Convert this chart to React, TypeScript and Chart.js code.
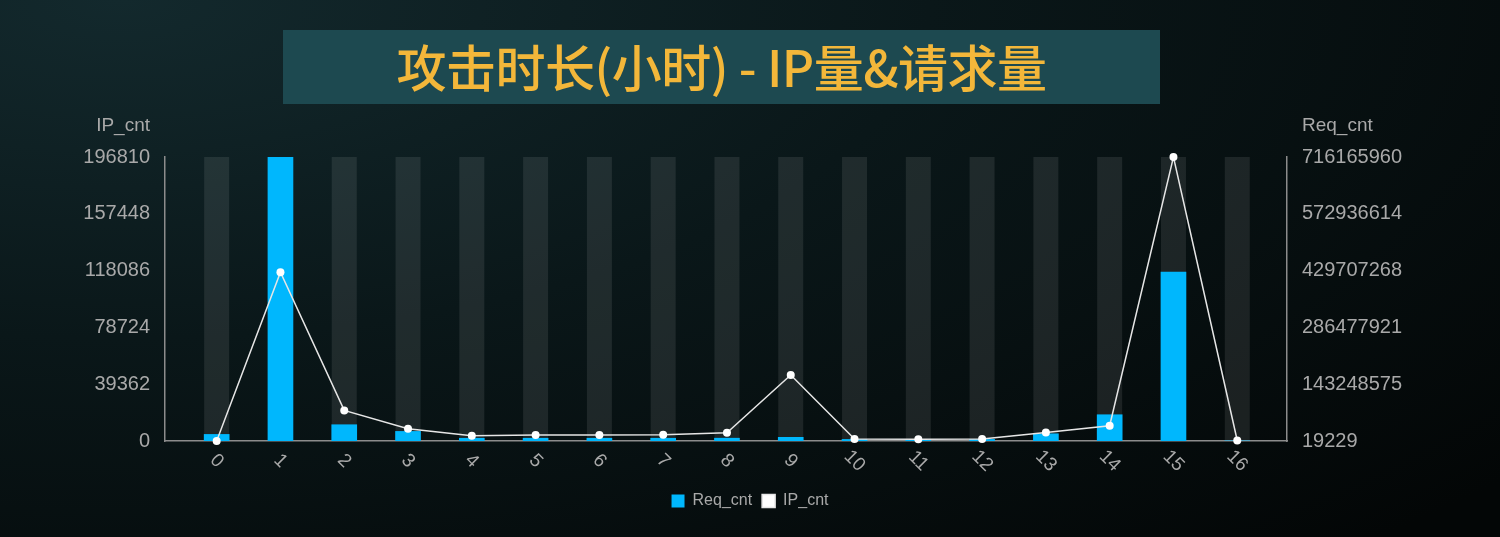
import { useEffect, useRef } from "react"
import { Chart, registerables } from "chart.js"

Chart.register(...registerables)

// attack duration in hours
const hours = [0, 1, 2, 3, 4, 5, 6, 7, 8, 9, 10, 11, 12, 13, 14, 15, 16]

// bars, left axis
const reqCntBars = [
    4570, 196810, 11280, 6650, 1900, 1900, 1900, 1900, 1950, 2550, 1100, 800, 1100, 5000, 18200, 117000, 60,
]

// line, right axis
const ipCntLine = [
    19229, 425700000, 77100000, 31000000, 13400000, 15100000, 15100000, 15500000, 20900000, 166300000, 5000000,
    4500000, 5300000, 21700000, 38500000, 716165960, 1200000,
]

const leftTickLabels = ["0", "39362", "78724", "118086", "157448", "196810"]
const rightTickLabels = ["19229", "143248575", "286477921", "429707268", "572936614", "716165960"]

const leftMin = 0
const leftMax = 196810
const rightMin = 19229
const rightMax = 716165960

const TICK_COLOR = "#a9a9a9"
const AXIS_COLOR = "#8c8c8c"
const FONT = "'Liberation Sans', Arial, sans-serif"

const evenTicks = (min: number, max: number, n: number) =>
    Array.from({ length: n }, (_, i) => ({ value: min + ((max - min) * i) / (n - 1) }))

// grey column behind every category + rotated hour labels + axis names
const decorPlugin = {
    id: "decor",
    beforeDatasetsDraw(chart: Chart) {
        const { ctx, chartArea, scales } = chart
        ctx.save()
        ctx.fillStyle = "rgba(255,255,255,0.09)"
        hours.forEach((h) => {
            const x = scales.x.getPixelForValue(h)
            ctx.fillRect(x - 12.5, chartArea.top, 25, chartArea.bottom - chartArea.top)
        })
        ctx.restore()
    },
    afterDraw(chart: Chart) {
        const { ctx, chartArea, scales } = chart
        ctx.save()
        ctx.fillStyle = TICK_COLOR
        ctx.font = `19px ${FONT}`
        ctx.textAlign = "center"
        ctx.textBaseline = "middle"
        hours.forEach((h) => {
            const x = scales.x.getPixelForValue(h)
            ctx.save()
            ctx.translate(x, chartArea.bottom + 20)
            ctx.rotate(Math.PI / 4)
            ctx.fillText(String(h), 0, 0)
            ctx.restore()
        })
        ctx.font = `19px ${FONT}`
        ctx.textAlign = "right"
        ctx.fillText("IP_cnt", chartArea.left - 15, chartArea.top - 31)
        ctx.textAlign = "left"
        ctx.fillText("Req_cnt", chartArea.right + 15, chartArea.top - 31)
        ctx.restore()
    },
}

function ComboChart() {
    const chartRef = useRef<HTMLCanvasElement>(null)
    const chartInstance = useRef<Chart | null>(null)

    useEffect(() => {
        if (!chartRef.current) return
        if (chartInstance.current) chartInstance.current.destroy()

        const ctx = chartRef.current.getContext("2d")
        if (!ctx) return

        chartInstance.current = new Chart(ctx, {
            type: "bar",
            data: {
                datasets: [
                    {
                        type: "bar",
                        label: "Req_cnt",
                        data: hours.map((h, i) => ({ x: h, y: reqCntBars[i] })),
                        backgroundColor: "#00b7fd",
                        borderWidth: 0,
                        barThickness: 25,
                        yAxisID: "y",
                        order: 2,
                    },
                    {
                        type: "line",
                        label: "IP_cnt",
                        data: hours.map((h, i) => ({ x: h, y: ipCntLine[i] })),
                        borderColor: "#e6e6e6",
                        backgroundColor: "#ffffff",
                        borderWidth: 1.5,
                        pointRadius: 4,
                        pointBackgroundColor: "#ffffff",
                        pointBorderWidth: 0,
                        tension: 0,
                        clip: false,
                        yAxisID: "y1",
                        order: 1,
                    },
                ],
            } as any,
            options: {
                animation: false,
                responsive: false,
                maintainAspectRatio: false,
                layout: { padding: { top: 157, bottom: 18, left: 0, right: 0 } },
                scales: {
                    x: {
                        type: "linear",
                        min: -0.81,
                        max: 16.78,
                        offset: false,
                        grid: { display: false, drawTicks: false },
                        border: { color: AXIS_COLOR, width: 1.5 },
                        ticks: { display: false },
                        afterFit: (scale: any) => {
                            scale.height = 42
                        },
                    },
                    y: {
                        position: "left",
                        min: leftMin,
                        max: leftMax,
                        grid: { display: false, drawTicks: false },
                        border: { color: AXIS_COLOR, width: 1.5 },
                        afterBuildTicks: (scale: any) => {
                            scale.ticks = evenTicks(leftMin, leftMax, leftTickLabels.length)
                        },
                        ticks: {
                            color: TICK_COLOR,
                            font: { family: FONT, size: 20 },
                            padding: 15,
                            callback: (_v: any, i: number) => leftTickLabels[i],
                        },
                        afterFit: (scale: any) => {
                            scale.width = 165
                        },
                    },
                    y1: {
                        position: "right",
                        min: rightMin,
                        max: rightMax,
                        grid: { display: false, drawTicks: false },
                        border: { color: AXIS_COLOR, width: 1.5 },
                        afterBuildTicks: (scale: any) => {
                            scale.ticks = evenTicks(rightMin, rightMax, rightTickLabels.length)
                        },
                        ticks: {
                            color: TICK_COLOR,
                            font: { family: FONT, size: 20 },
                            padding: 15,
                            callback: (_v: any, i: number) => rightTickLabels[i],
                        },
                        afterFit: (scale: any) => {
                            scale.width = 213
                        },
                    },
                },
                plugins: {
                    legend: {
                        position: "bottom",
                        labels: {
                            color: TICK_COLOR,
                            font: { family: FONT, size: 16 },
                            boxWidth: 13,
                            boxHeight: 13,
                            padding: 10,
                            sort: (a: any, b: any) => a.datasetIndex - b.datasetIndex,
                        },
                    },
                    tooltip: { enabled: false },
                },
            } as any,
            plugins: [decorPlugin],
        })

        return () => {
            if (chartInstance.current) {
                chartInstance.current.destroy()
                chartInstance.current = null
            }
        }
    }, [])

    return <canvas ref={chartRef} width={1500} height={537} style={{ position: "absolute", left: 0, top: 0 }} />
}

export default function App() {
    useEffect(() => {
        document.body.style.margin = "0"
    }, [])

    return (
        <div
            style={{
                position: "relative",
                width: 1500,
                height: 537,
                overflow: "hidden",
                background: "radial-gradient(ellipse 120% 140% at 8% 0%, #13292d 0%, #0a1719 45%, #030606 100%)",
            }}
        >
            <div
                style={{
                    position: "absolute",
                    left: 283,
                    top: 30,
                    width: 877,
                    height: 74,
                    background: "#1d4950",
                    color: "#f3b73a",
                    fontFamily: "'Noto Sans CJK SC', 'Noto Sans', sans-serif",
                    fontSize: 50,
                    fontWeight: 500,
                    lineHeight: "70px",
                    textAlign: "center",
                    whiteSpace: "nowrap",
                    letterSpacing: -0.5,
                }}
            >
                攻击时长(小时) - IP量&amp;请求量
            </div>
            <ComboChart />
        </div>
    )
}
